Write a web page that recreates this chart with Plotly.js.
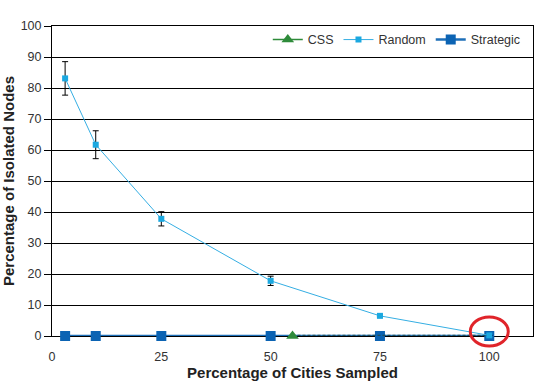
<!DOCTYPE html>
<html>
<head>
<meta charset="utf-8">
<script src="https://cdn.plot.ly/plotly-3.0.1.min.js"></script>
<style>html,body{margin:0;padding:0;background:#fff;}#chart{width:541px;height:384px;}</style>
</head>
<body>
<div id="chart"></div>
<script>
// Data
var xTickVals = [0, 25, 50, 75, 100];
var randomX = [3, 10, 25, 50, 75, 100];
var randomY = [83.1, 61.7, 37.8, 17.8, 6.5, 0.2];
var randomErr = [5.4, 4.5, 2.3, 1.5, 0.3, 0];
var strategicX = [3, 10, 25, 50, 75, 100];
var strategicY = [0, 0, 0, 0, 0, 0];
var cssX = [55];
var cssY = [0];
var cssTailX = [55, 75, 100];
var cssTailY = [0, 0, 0];
var highlightX = 100;
var highlightY = 0;
var xMax = 110;
var yMax = 100;

var font = "Liberation Sans, Arial, sans-serif";

var traces = [
  {
    x: strategicX, y: strategicY, name: "Strategic", type: "scatter", mode: "lines+markers",
    line: {color: "#1e6fb8", width: 2.5},
    marker: {symbol: "square", size: 10, color: "#0b63b3"},
    cliponaxis: false,
    legendrank: 3
  },
  {
    x: cssTailX, y: cssTailY, type: "scatter", mode: "lines", showlegend: false, hoverinfo: "skip",
    line: {color: "#1f4f5a", width: 2.5, dash: "3px,2px"},
    cliponaxis: false
  },
  {
    x: randomX, y: randomY, name: "Random", type: "scatter", mode: "lines+markers",
    line: {color: "#35aee3", width: 1},
    marker: {symbol: "square", size: 6, color: "#1ba8e0"},
    error_y: {type: "data", array: randomErr, visible: true, color: "#000", thickness: 1, width: 3},
    cliponaxis: false,
    legendrank: 2
  },
  {
    x: cssX, y: cssY, name: "CSS", type: "scatter", mode: "lines+markers",
    line: {color: "#2e8b3a", width: 1.5},
    marker: {symbol: "triangle-up", size: 11, color: "#2e8b3a"},
    cliponaxis: false,
    legendrank: 1
  }
];

var layout = {
  width: 541, height: 384,
  margin: {l: 52, r: 8, t: 26, b: 48},
  paper_bgcolor: "#fff", plot_bgcolor: "#fff",
  font: {family: font, size: 12, color: "#333"},
  showlegend: true,
  legend: {
    orientation: "h", x: 0.985, xanchor: "right", y: 0.955, yanchor: "middle",
    bgcolor: "rgba(0,0,0,0)", font: {family: font, size: 12.5, color: "#333"},
    traceorder: "normal", itemwidth: 30, tracegroupgap: 0
  },
  xaxis: {
    range: [0, xMax], tickvals: xTickVals, ticktext: xTickVals.map(String),
    showgrid: false, zeroline: false, showline: true, mirror: true, linecolor: "#000", linewidth: 1,
    layer: "below traces",
    ticks: "outside", ticklen: 9, tickcolor: "rgba(0,0,0,0)",
    tickfont: {family: font, size: 12.5, color: "#333"},
    title: {text: "Percentage of Cities Sampled", font: {family: font, size: 15, color: "#222", weight: "bold"}, standoff: 1}
  },
  yaxis: {
    range: [0, yMax], dtick: 10, tick0: 0,
    showgrid: true, gridcolor: "#000", gridwidth: 1, zeroline: false,
    showline: true, mirror: true, linecolor: "#000", linewidth: 1,
    layer: "below traces",
    ticks: "outside", ticklen: 7, tickcolor: "#000",
    tickfont: {family: font, size: 12.5, color: "#333"},
    title: {text: "Percentage of Isolated Nodes", font: {family: font, size: 15, color: "#222", weight: "bold"}, standoff: 7}
  },
  shapes: [
    {
      type: "circle", xref: "paper", yref: "paper",
      xsizemode: "pixel", ysizemode: "pixel",
      xanchor: highlightX / xMax, yanchor: highlightY / yMax,
      x0: -19, x1: 19, y0: -10, y1: 19,
      line: {color: "#e0242a", width: 3}
    }
  ]
};

Plotly.newPlot("chart", traces, layout, {displayModeBar: false, staticPlot: true});
</script>
</body>
</html>
